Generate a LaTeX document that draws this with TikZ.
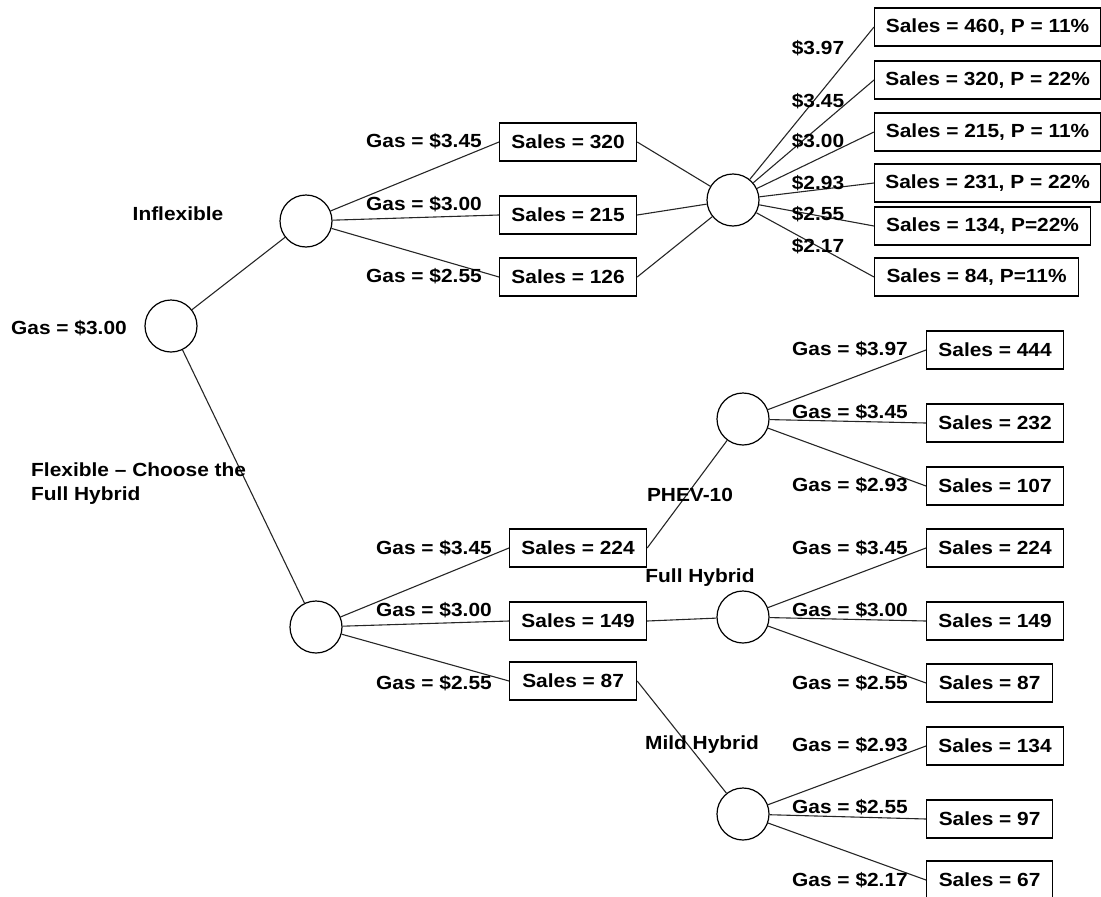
\documentclass[tikz,border=0pt]{standalone}
\usepackage{fontspec}
\setmainfont{Liberation Sans}[FakeStretch=1.1]
\begin{document}
\begin{tikzpicture}[x=1pt,y=-1pt,
  txt/.style={font=\fontsize{19}{24}\selectfont\bfseries},
  lbl/.style={txt, inner sep=0pt},
  sbox/.style={txt, draw, line width=1.2pt, minimum width=#1, minimum height=38pt, inner xsep=4pt, anchor=west},
  sbox/.default=137pt,
  chance/.style={circle, draw, line width=1.2pt, minimum size=52pt, inner sep=0pt},
  edge/.style={line width=1.1pt, draw=black!85}]
\useasboundingbox (0,0) rectangle (1101,897);
% chance nodes
\node[chance] (c0) at (171,326) {};
\node[chance] (c1) at (306,221) {};
\node[chance] (c2) at (733,200) {};
\node[chance] (c3) at (316,627) {};
\node[chance] (c4) at (743,419) {};
\node[chance] (c5) at (743,617) {};
\node[chance] (c6) at (743,814) {};
% inflexible boxes
\node[sbox] (b1) at (499,142) {Sales = 320};
\node[sbox] (b2) at (499,215) {Sales = 215};
\node[sbox] (b3) at (499,277) {Sales = 126};
% top right boxes
\node[sbox=226pt] (t1) at (874,27) {Sales = 460, P = 11\%};
\node[sbox=226pt] (t2) at (874,80) {Sales = 320, P = 22\%};
\node[sbox=226pt] (t3) at (874,132) {Sales = 215, P = 11\%};
\node[sbox=226pt] (t4) at (874,183) {Sales = 231, P = 22\%};
\node[sbox=216pt] (t5) at (874,226) {Sales = 134, P=22\%};
\node[sbox=204pt] (t6) at (874,277) {Sales = 84, P=11\%};
% flexible boxes
\node[sbox] (f1) at (509,548) {Sales = 224};
\node[sbox] (f2) at (509,621) {Sales = 149};
\node[sbox=127pt] (f3) at (509,681) {Sales = 87};
% right boxes
\node[sbox] (r1) at (926,350) {Sales = 444};
\node[sbox] (r2) at (926,423) {Sales = 232};
\node[sbox] (r3) at (926,486) {Sales = 107};
\node[sbox] (r4) at (926,548) {Sales = 224};
\node[sbox] (r5) at (926,621) {Sales = 149};
\node[sbox=126pt] (r6) at (926,683) {Sales = 87};
\node[sbox] (r7) at (926,746) {Sales = 134};
\node[sbox=126pt] (r8) at (926,819) {Sales = 97};
\node[sbox=126pt] (r9) at (926,880) {Sales = 67};
% connectors
\draw[edge] (c0) -- (c1);
\draw[edge] (c0) -- (c3);
\foreach \b in {b1,b2,b3} {\draw[edge] (c1) -- (\b.west); \draw[edge] (\b.east) -- (c2);}
\foreach \t in {t1,t2,t3,t4,t5,t6} {\draw[edge] (c2) -- (\t.west);}
\foreach \f in {f1,f2,f3} {\draw[edge] (c3) -- (\f.west);}
\draw[edge] (f1.east) -- (c4);
\draw[edge] (f2.east) -- (c5);
\draw[edge] (f3.east) -- (c6);
\foreach \r in {r1,r2,r3} {\draw[edge] (c4) -- (\r.west);}
\foreach \r in {r4,r5,r6} {\draw[edge] (c5) -- (\r.west);}
\foreach \r in {r7,r8,r9} {\draw[edge] (c6) -- (\r.west);}
% labels
\node[lbl] (l0) at (69,328) {Gas = \$3.00};
\node[lbl] (l1) at (178,214) {Inflexible};
\node[lbl, anchor=north west, align=left] (l2) at (31,463) {Flexible – Choose the\\Full Hybrid};
\node[lbl] (g1) at (424,141) {Gas = \$3.45};
\node[lbl] (g2) at (424,204) {Gas = \$3.00};
\node[lbl] (g3) at (424,276) {Gas = \$2.55};
\node[lbl] (p1) at (818,48) {\$3.97};
\node[lbl] (p2) at (818,101) {\$3.45};
\node[lbl] (p3) at (818,141) {\$3.00};
\node[lbl] (p4) at (818,183) {\$2.93};
\node[lbl] (p5) at (818,214) {\$2.55};
\node[lbl] (p6) at (818,246) {\$2.17};
\node[lbl] (h1) at (434,548) {Gas = \$3.45};
\node[lbl] (h2) at (434,610) {Gas = \$3.00};
\node[lbl] (h3) at (434,683) {Gas = \$2.55};
\node[lbl] (k1) at (690,495) {PHEV-10};
\node[lbl] (k2) at (700,578) {Full Hybrid};
\node[lbl] (k3) at (702,745) {Mild Hybrid};
\node[lbl] (q1) at (850,349) {Gas = \$3.97};
\node[lbl] (q2) at (850,412) {Gas = \$3.45};
\node[lbl] (q3) at (850,485) {Gas = \$2.93};
\node[lbl] (q4) at (850,548) {Gas = \$3.45};
\node[lbl] (q5) at (850,610) {Gas = \$3.00};
\node[lbl] (q6) at (850,683) {Gas = \$2.55};
\node[lbl] (q7) at (850,745) {Gas = \$2.93};
\node[lbl] (q8) at (850,807) {Gas = \$2.55};
\node[lbl] (q9) at (850,880) {Gas = \$2.17};
\end{tikzpicture}
\end{document}
